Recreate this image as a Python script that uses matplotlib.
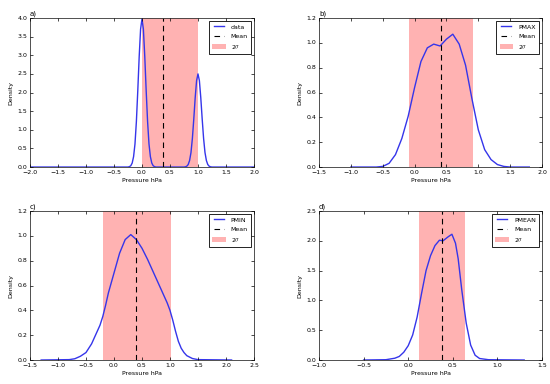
import matplotlib
matplotlib.use('Agg')
import matplotlib.pyplot as plt

# Curvas de densidad
x_data = [-2.0, -0.25, -0.225, -0.2, -0.175, -0.15, -0.125, -0.1, -0.075, -0.05, -0.025, 0.0,
          0.025, 0.05, 0.075, 0.1, 0.125, 0.15, 0.175, 0.2, 0.225, 0.25,
          0.75, 0.775, 0.8, 0.825, 0.85, 0.875, 0.9, 0.925, 0.95, 0.975, 1.0,
          1.025, 1.05, 1.075, 1.1, 1.125, 1.15, 1.175, 1.2, 1.225, 1.25, 2.0]
y_data = [0.0, 0.0, 0.01, 0.035, 0.107, 0.28, 0.62, 1.22, 2.05, 2.96, 3.70, 3.98,
          3.70, 2.96, 2.05, 1.22, 0.62, 0.28, 0.107, 0.035, 0.01, 0.0,
          0.0, 0.006, 0.022, 0.067, 0.175, 0.39, 0.77, 1.29, 1.86, 2.32, 2.5,
          2.32, 1.86, 1.29, 0.77, 0.39, 0.175, 0.067, 0.022, 0.006, 0.0, 0.0]

x_pmax = [-1.0, -0.6, -0.5, -0.4, -0.3, -0.2, -0.1, 0.0, 0.1, 0.2, 0.3, 0.4, 0.5,
          0.6, 0.7, 0.8, 0.9, 1.0, 1.1, 1.2, 1.3, 1.4, 1.5, 1.8]
y_pmax = [0.0, 0.0, 0.005, 0.03, 0.1, 0.23, 0.41, 0.64, 0.85, 0.96, 0.99, 0.975, 1.03,
          1.07, 0.99, 0.82, 0.55, 0.3, 0.14, 0.06, 0.02, 0.005, 0.0, 0.0]

x_pmin = [-1.3, -0.8, -0.7, -0.6, -0.5, -0.4, -0.3, -0.25, -0.2, -0.15, -0.1, 0.0, 0.1,
          0.2, 0.3, 0.4, 0.5, 0.6, 0.7, 0.8, 0.9, 0.95, 1.0, 1.05, 1.1, 1.15, 1.2,
          1.25, 1.3, 1.4, 1.5, 2.1]
y_pmin = [0.0, 0.003, 0.01, 0.03, 0.06, 0.13, 0.23, 0.28, 0.35, 0.44, 0.54, 0.7, 0.86,
          0.97, 1.01, 0.97, 0.9, 0.81, 0.71, 0.61, 0.51, 0.46, 0.40, 0.32, 0.23, 0.15,
          0.095, 0.06, 0.035, 0.012, 0.003, 0.0]

x_pmean = [-0.5, -0.25, -0.15, -0.1, -0.05, 0.0, 0.05, 0.1, 0.15, 0.2, 0.25, 0.3,
           0.35, 0.39, 0.45, 0.49, 0.53, 0.56, 0.6, 0.65, 0.7, 0.75, 0.8, 0.9, 1.3]
y_pmean = [0.0, 0.005, 0.03, 0.06, 0.13, 0.24, 0.42, 0.72, 1.12, 1.5, 1.75, 1.92,
           2.01, 2.0, 2.07, 2.11, 1.96, 1.7, 1.18, 0.62, 0.25, 0.08, 0.025, 0.005, 0.0]

nombres = ['data', 'PMAX', 'PMIN', 'PMEAN']
letras = ['a)', 'b)', 'c)', 'd)']
curvas_x = [x_data, x_pmax, x_pmin, x_pmean]
curvas_y = [y_data, y_pmax, y_pmin, y_pmean]
medias = [0.38, 0.42, 0.39, 0.383]
banda_ini = [0.0, -0.08, -0.19, 0.12]
banda_fin = [1.0, 0.92, 1.01, 0.633]
xlims = [(-2.0, 2.0), (-1.5, 2.0), (-1.5, 2.5), (-1.0, 1.5)]
ylims = [(0, 4.0), (0, 1.2), (0, 1.2), (0, 2.5)]

plt.style.use('classic')
plt.rcParams['font.family'] = 'DejaVu Sans'

fig = plt.figure(figsize=(5.5, 3.84), dpi=100, facecolor='white')
posiciones = [[0.0545, 0.565, 0.4073, 0.388],
              [0.58, 0.565, 0.4055, 0.388],
              [0.0545, 0.0625, 0.4073, 0.388],
              [0.58, 0.0625, 0.4055, 0.388]]

fs = 4.5
for i in range(4):
    ax = fig.add_axes(posiciones[i])
    ax.plot(curvas_x[i], curvas_y[i], color='#3535ea', lw=1.0, label=nombres[i])
    ax.axvline(medias[i], color='black', ls='--', lw=0.8, dashes=(4, 3), label='Mean')
    ax.axvspan(banda_ini[i], banda_fin[i], color='red', alpha=0.3, lw=0, label='2$\\sigma$')
    ax.set_xlim(xlims[i])
    ax.set_ylim(ylims[i])
    ax.set_xlabel('Pressure hPa', fontsize=fs, labelpad=2)
    ax.set_ylabel('Density', fontsize=fs, labelpad=3)
    ax.set_title(letras[i], loc='left', fontsize=fs + 0.5, pad=1.5)
    ax.tick_params(labelsize=fs, length=2.5, width=0.5, pad=2, direction='in',
                   top=True, right=True)
    for s in ax.spines.values():
        s.set_linewidth(0.6)
        s.set_color('#333333')
    leg = ax.legend(loc='upper right', fontsize=fs, handlelength=2.2,
                    borderpad=0.5, labelspacing=0.6, frameon=True, fancybox=False)
    leg.get_frame().set_linewidth(0.6)
    leg.get_frame().set_edgecolor('black')

fig.savefig('out.png', dpi=100, facecolor='white')
